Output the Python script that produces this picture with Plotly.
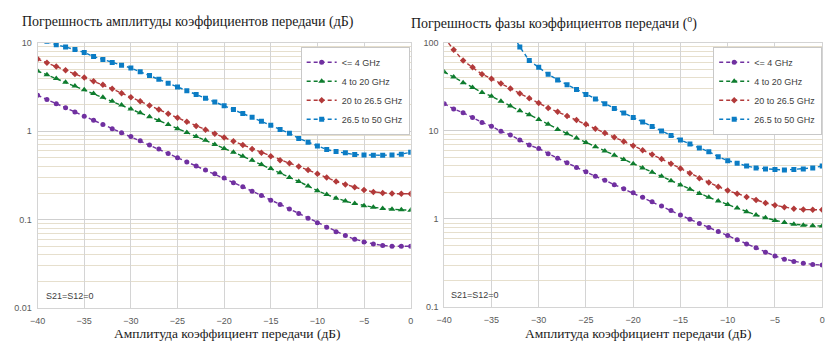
import plotly.graph_objects as go

# Transmission magnitude, dB (x axis, shared by both panels)
levels = list(range(-40, 1))

series_names = ["<= 4 GHz", "4 to 20 GHz", "20 to 26.5 GHz", "26.5 to 50 GHz"]

# Magnitude uncertainty, dB
mag_le4 = [2.55, 2.29, 2.05, 1.84, 1.65, 1.48, 1.33, 1.19, 1.07, 0.96,
           0.87, 0.78, 0.70, 0.63, 0.56, 0.50, 0.45, 0.405, 0.365, 0.33,
           0.295, 0.262, 0.235, 0.21, 0.187, 0.166, 0.148, 0.132, 0.117, 0.104,
           0.092, 0.082, 0.073, 0.066, 0.060, 0.056, 0.053, 0.051, 0.050, 0.050,
           0.050]
mag_4_20 = [4.80, 4.35, 3.95, 3.58, 3.25, 2.95, 2.67, 2.42, 2.19, 1.98,
            1.79, 1.62, 1.46, 1.32, 1.19, 1.07, 0.97, 0.87, 0.79, 0.71,
            0.64, 0.58, 0.52, 0.47, 0.42, 0.38, 0.34, 0.30, 0.27, 0.24,
            0.212, 0.192, 0.175, 0.162, 0.152, 0.144, 0.138, 0.134, 0.131, 0.129,
            0.128]
mag_20_265 = [6.55, 5.95, 5.40, 4.90, 4.45, 4.05, 3.68, 3.35, 3.02, 2.70,
              2.42, 2.18, 1.96, 1.76, 1.58, 1.42, 1.28, 1.15, 1.04, 0.94,
              0.85, 0.77, 0.70, 0.63, 0.57, 0.52, 0.47, 0.435, 0.40, 0.365,
              0.33, 0.30, 0.27, 0.25, 0.232, 0.217, 0.206, 0.200, 0.197, 0.196,
              0.196]
mag_265_50 = [None, 10.4, 9.5, 9.0, 8.4, 7.8, 7.0, 6.5, 6.0, 5.6,
              5.2, 4.7, 4.27, 3.87, 3.50, 3.17, 2.87, 2.60, 2.36, 2.14,
              1.94, 1.76, 1.59, 1.44, 1.30, 1.17, 1.05, 0.95, 0.83, 0.75,
              0.68, 0.62, 0.59, 0.57, 0.545, 0.54, 0.535, 0.535, 0.54, 0.55,
              0.58]

# Phase uncertainty, degrees
ph_le4 = [20.4, 17.8, 16.1, 14.2, 12.5, 11.3, 9.9, 9.0, 7.9, 6.9,
          6.3, 5.5, 4.9, 4.35, 3.85, 3.45, 3.05, 2.75, 2.45, 2.2,
          1.98, 1.76, 1.57, 1.40, 1.25, 1.11, 0.99, 0.89, 0.80, 0.72,
          0.65, 0.58, 0.52, 0.47, 0.42, 0.38, 0.35, 0.33, 0.315, 0.305,
          0.30]
ph_4_20 = [46.7, 41.0, 35.3, 31.1, 27.4, 24.8, 21.8, 19.2, 16.9, 15.3,
           13.5, 11.9, 10.4, 9.3, 8.3, 7.4, 6.6, 5.9, 5.3, 4.75,
           4.25, 3.8, 3.4, 3.05, 2.72, 2.43, 2.17, 1.95, 1.76, 1.60,
           1.46, 1.33, 1.21, 1.11, 1.03, 0.96, 0.91, 0.87, 0.85, 0.84,
           0.83]
ph_20_265 = [115, 83.7, 63, 53, 44, 39.2, 34.5, 30.3, 26.7, 23.5,
             20.7, 18.2, 16.5, 14.8, 13.3, 11.9, 10.6, 9.5, 8.5, 7.6,
             6.8, 6.05, 5.4, 4.8, 4.25, 3.75, 3.3, 2.9, 2.6, 2.33,
             2.1, 1.94, 1.78, 1.64, 1.52, 1.43, 1.36, 1.31, 1.28, 1.27,
             1.27]
ph_265_50 = [None, None, None, None, None, None, None, 140, 90, 63,
             53, 44, 38, 33.5, 29.5, 26, 23, 20.3, 18, 16,
             14.2, 12.6, 11.2, 10.0, 8.9, 7.9, 7.1, 6.4, 5.8, 5.1,
             4.6, 4.3, 4.0, 3.8, 3.7, 3.65, 3.6, 3.65, 3.7, 3.8,
             4.0]

mag_ticks = [0.01, 0.1, 1, 10]
mag_ticktext = ["0.01", "0.1", "1", "10"]
ph_ticks = [0.1, 1, 10, 100]
ph_ticktext = ["0.1", "1", "10", "100"]
x_ticks = [-40, -35, -30, -25, -20, -15, -10, -5, 0]

colors = ["#7030A0", "#0E7C2E", "#B23A3A", "#0B7CC4"]
symbols = ["circle", "triangle-up", "diamond", "square"]
msizes = [5, 6, 5, 5]

W, H = 840, 347

fig = go.Figure()

panels = [
    ("x", "y", "legend", [mag_le4, mag_4_20, mag_20_265, mag_265_50]),
    ("x2", "y2", "legend2", [ph_le4, ph_4_20, ph_20_265, ph_265_50]),
]
for xa, ya, leg, data in panels:
    for name, vals, c, s, ms in zip(series_names, data, colors, symbols, msizes):
        fig.add_trace(go.Scatter(
            x=levels, y=vals, name=name, mode="lines+markers",
            xaxis=xa, yaxis=ya, legend=leg,
            line=dict(color=c, width=1.4, dash="4px,3px"),
            marker=dict(color=c, symbol=s, size=ms, line=dict(width=0)),
            connectgaps=False,
        ))

grid_major = "#d4d4d4"
grid_minor = "#e6dfcd"
tick_font = dict(family="Liberation Sans, Arial, sans-serif", size=9, color="#595959")

def xaxis_cfg(domain, anchor):
    return dict(domain=domain, anchor=anchor, range=[-40, 0], tickvals=x_ticks,
                showgrid=True, gridcolor=grid_major, gridwidth=1, zeroline=False,
                showline=True, linecolor=grid_major, mirror=True,
                ticks="", tickfont=tick_font, ticklabelstandoff=4)

def yaxis_cfg(domain, anchor, rng, tv, tt):
    return dict(domain=domain, anchor=anchor, type="log", range=rng,
                tickvals=tv, ticktext=tt, showgrid=True, gridcolor="#cfcfcf",
                zeroline=False, showline=True, linecolor=grid_major, mirror=True,
                ticks="", tickfont=tick_font, ticklabelstandoff=3,
                minor=dict(dtick="D1", showgrid=True, gridcolor=grid_minor, gridwidth=1, ticks=""))

legend_font = dict(family="Liberation Sans, Arial, sans-serif", size=9, color="#404040")
fig.update_layout(
    width=W, height=H,
    margin=dict(l=0, r=0, t=0, b=0),
    paper_bgcolor="white", plot_bgcolor="white",
    xaxis=xaxis_cfg([30 / W, 408 / W], "y"),
    yaxis=yaxis_cfg([1 - 312 / H, 1 - 39 / H], "x", [-2, 1], mag_ticks, mag_ticktext),
    xaxis2=xaxis_cfg([442 / W, 825 / W], "y2"),
    yaxis2=yaxis_cfg([1 - 311 / H, 1 - 39 / H], "x2", [-1, 2], ph_ticks, ph_ticktext),
    legend=dict(x=407 / W, y=1 - 43 / H, xanchor="right", yanchor="top",
                bgcolor="white", bordercolor="#c8c8c8", borderwidth=1,
                font=legend_font, itemwidth=30, tracegroupgap=0),
    legend2=dict(x=825 / W, y=1 - 43 / H, xanchor="right", yanchor="top",
                 bgcolor="white", bordercolor="#c8c8c8", borderwidth=1,
                 font=legend_font, itemwidth=30, tracegroupgap=0),
    showlegend=True,
)

serif = dict(family="Liberation Serif, Times New Roman, serif", size=14, color="#1a1a1a")
serif_axis = dict(family="Liberation Serif, Times New Roman, serif", size=13.5, color="#1a1a1a")
small = dict(family="Liberation Sans, Arial, sans-serif", size=9, color="#404040")
annots = [
    dict(text="Погрешность амплитуды коэффициентов передачи (дБ)", x=12 / W, y=1 - 18 / H,
         xanchor="left", yanchor="middle", font=serif),
    dict(text="Погрешность фазы коэффициентов передачи (<sup>o</sup>)", x=406 / W, y=1 - 18 / H,
         xanchor="left", yanchor="middle", font=serif),
    dict(text="Амплитуда коэффициент передачи (дБ)", x=222 / W, y=1 - 338 / H,
         xanchor="center", yanchor="middle", font=serif_axis),
    dict(text="Амплитуда коэффициент передачи (дБ)", x=639 / W, y=1 - 338 / H,
         xanchor="center", yanchor="middle", font=serif_axis),
    dict(text="S21=S12=0", x=36 / W, y=1 - 300 / H, xanchor="left", yanchor="middle", font=small),
    dict(text="S21=S12=0", x=447 / W, y=1 - 299 / H, xanchor="left", yanchor="middle", font=small),
]
for a in annots:
    fig.add_annotation(xref="paper", yref="paper", showarrow=False, **a)

fig.write_html("out.html")
